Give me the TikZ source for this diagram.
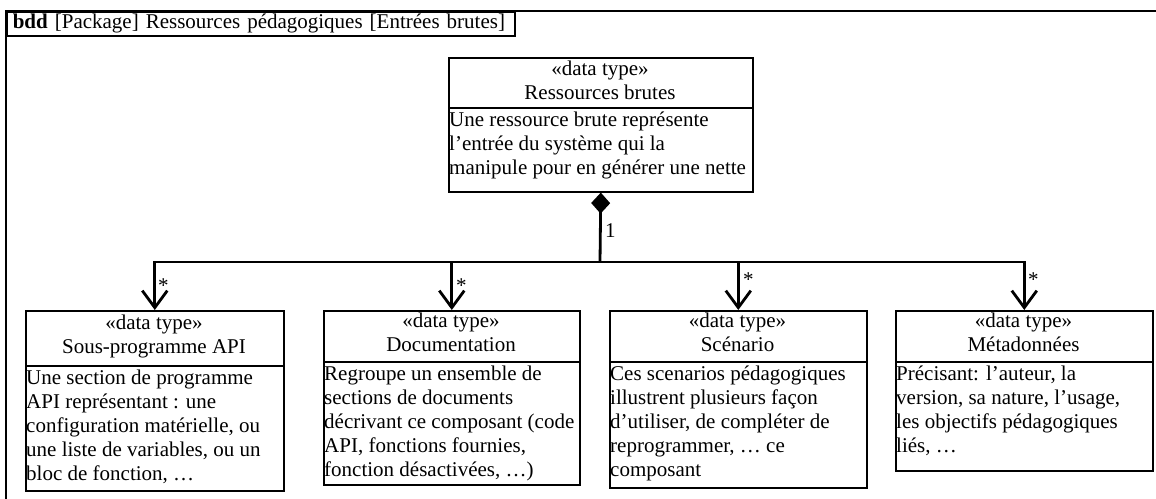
\documentclass[tikz,border=0pt]{standalone}
\usepackage{fontspec}
\setmainfont{Liberation Serif}
\usetikzlibrary{arrows.meta}
\tikzset{
  txt/.style={font=\fontsize{21}{24}\selectfont, inner sep=0pt},
  hdr/.style={txt, align=center, anchor=north},
  bodytxt/.style={txt, align=left, anchor=north west},
  umlbox/.style={draw, line width=1.6pt, anchor=north west, inner sep=0pt},
  divl/.style={line width=1.6pt},
  frame/.style={draw, line width=2.4pt},
  bus/.style={line width=2.8pt},
  nav/.style={bus, -{Straight Barb[length=17pt,width=25pt]}},
  comp/.style={bus, {Diamond[length=21pt,width=19pt]}-},
  mult/.style={txt, anchor=base west},
}
\begin{document}
\begin{tikzpicture}[x=1pt,y=-1pt]
\useasboundingbox (0,0) rectangle (1156,498);
\clip (0,0) rectangle (1156,498);
\draw[frame] (6,11) rectangle (1200,540);
% diagram frame tab
\node[umlbox, line width=1.6pt, minimum width=508pt, minimum height=24pt, text width=496pt, inner xsep=6pt, align=left, font=\fontsize{21}{24}\selectfont] (tab) at (6,11) {\textbf{bdd} [Package] Ressources pédagogiques [Entrées brutes]};

% top block
\node[umlbox, minimum width=304pt, minimum height=134pt] (R) at (448,57) {};
\draw[divl] (448,108) -- (752,108);
\node[hdr] (Rh) at (600,61) {«data type»\\Ressources brutes};
\node[bodytxt] (Rt) at (449,112) {Une ressource brute représente\\l’entrée du système qui la\\manipule pour en générer une nette};

% bottom blocks
\node[umlbox, minimum width=258pt, minimum height=180pt] (b1) at (25,310) {};
\draw[divl] (25,366) -- (283,366);
\node[hdr] (b1h) at (154,315) {«data type»\\Sous-programme API};
\node[bodytxt] (b1t) at (26,370) {Une section de programme\\API représentant : une\\configuration matérielle, ou\\une liste de variables, ou un\\bloc de fonction, …};

\node[umlbox, minimum width=256pt, minimum height=174pt] (b2) at (323,310) {};
\draw[divl] (323,362) -- (579,362);
\node[hdr] (b2h) at (451,313) {«data type»\\Documentation};
\node[bodytxt] (b2t) at (324,366) {Regroupe un ensemble de\\sections de documents\\décrivant ce composant (code\\API, fonctions fournies,\\fonction désactivées, …)};

\node[umlbox, minimum width=257pt, minimum height=177pt] (b3) at (609,310) {};
\draw[divl] (609,362) -- (866,362);
\node[hdr] (b3h) at (737.5,313) {«data type»\\Scénario};
\node[bodytxt] (b3t) at (610,366) {Ces scenarios pédagogiques\\illustrent plusieurs façon\\d’utiliser, de compléter de\\reprogrammer, … ce\\composant};

\node[umlbox, minimum width=257pt, minimum height=160pt] (b4) at (895,310) {};
\draw[divl] (895,362) -- (1152,362);
\node[hdr] (b4h) at (1023.5,313) {«data type»\\Métadonnées};
\node[bodytxt] (b4t) at (896,366) {Précisant: l’auteur, la\\version, sa nature, l’usage,\\les objectifs pédagogiques\\liés, …};

% connectors
\coordinate (jn) at (600,262);
\draw[comp] (R.south) -- (jn);
\draw[nav] (jn) -| (b1.north);
\draw[nav] (jn) -| (b2.north);
\draw[nav] (jn) -| (b3.north);
\draw[nav] (jn) -| (b4.north);

% multiplicities
\node[mult] (m0) at (605,237) {1};
\node[mult] (m1) at (158,292) {*};
\node[mult] (m2) at (456,292) {*};
\node[mult] (m3) at (743,286) {*};
\node[mult] (m4) at (1028,286) {*};
\end{tikzpicture}
\end{document}
